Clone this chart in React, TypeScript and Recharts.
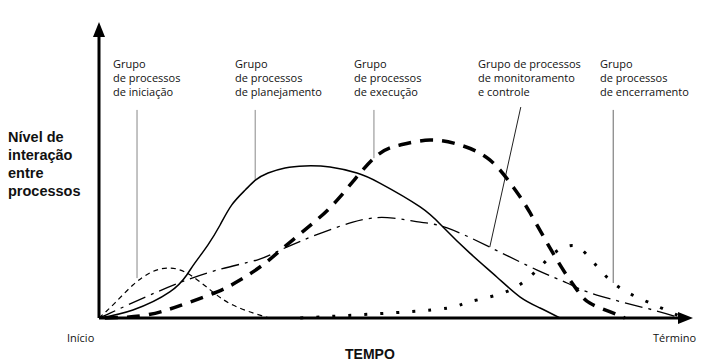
import React from 'react';
import { LineChart, Line, XAxis, YAxis, ReferenceLine } from 'recharts';

// time (0 = início, 100 = término) and interaction level per process group
const iniciacaoT = [0, 2.7, 5.8, 8.7, 11.6, 15.0, 19.0, 22.9, 27.5, 29.2];
const iniciacaoV = [0, 5.2, 11.5, 15.7, 17.4, 15.7, 9.8, 4.5, 1.0, 0];

const planejamentoT = [0, 5.8, 12.1, 15.0, 16.4, 18.6, 20.7, 22.7, 25.0, 26.8, 28.9, 31.8, 35.2, 39.5, 44.1, 48.0, 54.9, 58.8, 63.4, 68.0, 72.0, 75.4, 78.8];
const planejamentoV = [0, 2.8, 9.1, 15.0, 19.2, 25.4, 32.4, 39.4, 44.6, 48.1, 50.5, 52.3, 53.0, 52.6, 50.5, 47.0, 38.7, 31.7, 22.6, 14.3, 7.3, 3.5, 0];

const execucaoT = [1.0, 7.0, 11.6, 15.6, 20.2, 24.1, 28.0, 31.5, 36.6, 41.2, 47.0, 51.5, 56.6, 61.7, 66.8, 70.8, 73.7, 78.3, 81.7, 83.9, 87.4, 89.9];
const execucaoV = [0, 0.7, 2.8, 5.6, 9.1, 13.2, 18.5, 24.4, 33.1, 42.2, 55.7, 60.3, 62.0, 60.3, 55.1, 45.6, 36.6, 20.2, 9.8, 5.2, 2.1, 0];

const monitoramentoT = [0, 1.9, 8.7, 18.5, 27.0, 32.1, 43.4, 50.3, 54.9, 59.5, 66.8, 74.9, 80.0, 85.1, 94.7, 99.3];
const monitoramentoV = [0, 1.7, 8.0, 15.7, 20.2, 24.7, 33.4, 34.8, 33.4, 31.4, 24.7, 16.7, 12.2, 8.0, 2.8, 0];

const encerramentoT = [34.4, 56.9, 62.6, 68.0, 73.0, 77.1, 79.3, 81.4, 83.9, 87.9, 93.0, 98.1, 100];
const encerramentoV = [0, 2.8, 5.2, 8.0, 13.2, 21.3, 24.4, 25.1, 20.9, 12.2, 6.3, 1.7, 0];

// label texts and where their leader lines run (time, level top -> level bottom)
const grupoLabels = [
  ['Grupo', 'de processos', 'de iniciação'],
  ['Grupo', 'de processos', 'de planejamento'],
  ['Grupo', 'de processos', 'de execução'],
  ['Grupo de processos', 'de monitoramento', 'e controle'],
  ['Grupo', 'de processos', 'de encerramento'],
];
const leaderTop = [[6.5, 72.5], [26.7, 72.5], [47.0, 72.5], [72.1, 73.5], [87.9, 72.5]];
const leaderBottom = [[6.5, 13.9], [26.7, 48.1], [47.0, 55.7], [66.8, 24.7], [87.9, 12.2]];
const leaderColor = ['#888', '#888', '#888', '#222', '#666'];
const labelLeft = [113, 235, 354, 478, 600];

const yLabel = ['Nível de', 'interação', 'entre', 'processos'];

const rows = (ts: number[], vs: number[]) => ts.map((t, i) => ({ t, v: vs[i] }));

const smallFont = '"Open Sans", "DejaVu Sans", sans-serif';

const AxisArrow = (p: any) => (
  <line x1={p.x1} y1={p.y1} x2={p.x2} y2={p.y2} stroke="#000" strokeWidth={3} markerEnd="url(#arrowHead)" />
);

const App: React.FC = () => {
  return (
    <div style={{ position: 'absolute', left: 0, top: 0, width: 708, height: 363, background: '#fff', fontFamily: smallFont, color: '#111' }}>
      <svg width={0} height={0} style={{ position: 'absolute' }}>
        <defs>
          <marker id="arrowHead" markerUnits="userSpaceOnUse" markerWidth={16} markerHeight={12} refX={6} refY={6} orient="auto">
            <path d="M0,0 L15,6 L0,12 z" fill="#000" />
          </marker>
        </defs>
      </svg>
      <LineChart width={708} height={363} margin={{ top: 31, right: 24, left: 99, bottom: 45 }}>
        <XAxis type="number" dataKey="t" domain={[0, 100]} hide />
        <YAxis type="number" dataKey="v" domain={[0, 100]} hide />
        {leaderTop.map((p, i) => (
          <ReferenceLine
            key={i}
            segment={[{ x: p[0], y: p[1] }, { x: leaderBottom[i][0], y: leaderBottom[i][1] }]}
            stroke={leaderColor[i]}
            strokeWidth={1}
            ifOverflow="visible"
          />
        ))}
        <ReferenceLine segment={[{ x: 0, y: 0 }, { x: 100, y: 0 }]} shape={AxisArrow} ifOverflow="visible" />
        <ReferenceLine segment={[{ x: 0, y: 0 }, { x: 0, y: 100 }]} shape={AxisArrow} ifOverflow="visible" />
        <Line data={rows(iniciacaoT, iniciacaoV)} dataKey="v" type="natural" stroke="#000" strokeWidth={1.2} strokeDasharray="5 4" dot={false} isAnimationActive={false} />
        <Line data={rows(planejamentoT, planejamentoV)} dataKey="v" type="natural" stroke="#000" strokeWidth={1.5} dot={false} isAnimationActive={false} />
        <Line data={rows(monitoramentoT, monitoramentoV)} dataKey="v" type="natural" stroke="#000" strokeWidth={1.3} strokeDasharray="18 6 3 6" dot={false} isAnimationActive={false} />
        <Line data={rows(execucaoT, execucaoV)} dataKey="v" type="natural" stroke="#000" strokeWidth={3.5} strokeDasharray="13 9" dot={false} isAnimationActive={false} />
        <Line data={rows(encerramentoT, encerramentoV)} dataKey="v" type="natural" stroke="#000" strokeWidth={3} strokeDasharray="3 13" dot={false} isAnimationActive={false} />
      </LineChart>

      {grupoLabels.map((lines, i) => (
        <div key={i} style={{ position: 'absolute', left: labelLeft[i], top: 57, fontSize: 11, lineHeight: '14px', whiteSpace: 'nowrap' }}>
          {lines.map((l) => (
            <div key={l}>{l}</div>
          ))}
        </div>
      ))}

      <div style={{ position: 'absolute', left: 8, top: 128, fontFamily: '"Liberation Sans", Arial, sans-serif', fontWeight: 'bold', fontSize: 14.5, lineHeight: '18px', whiteSpace: 'nowrap' }}>
        {yLabel.map((l) => (
          <div key={l}>{l}</div>
        ))}
      </div>

      <div style={{ position: 'absolute', left: 67, top: 331, fontSize: 11, lineHeight: '14px' }}>Início</div>
      <div style={{ position: 'absolute', left: 653, top: 331, fontSize: 11, lineHeight: '14px' }}>Término</div>
      <div style={{ position: 'absolute', left: 345, top: 346, fontFamily: '"Liberation Sans", Arial, sans-serif', fontWeight: 'bold', fontSize: 14, lineHeight: '16px' }}>TEMPO</div>
    </div>
  );
};

export default App;
